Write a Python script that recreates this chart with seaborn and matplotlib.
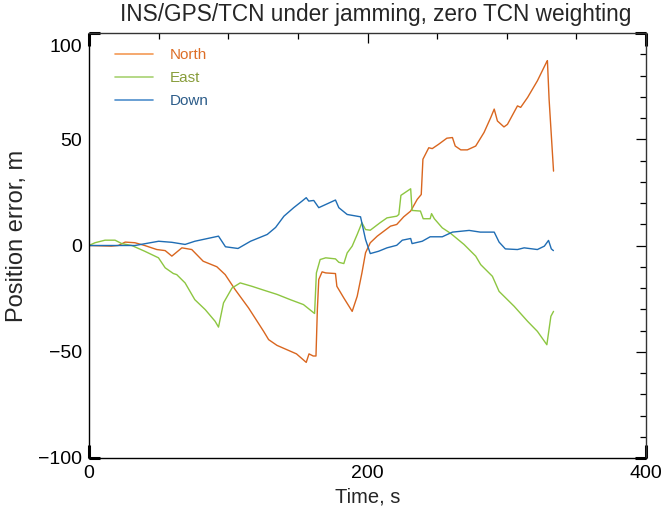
import matplotlib
matplotlib.use("Agg")
import matplotlib.pyplot as plt
from matplotlib.lines import Line2D
from matplotlib.ticker import MultipleLocator
import matplotlib.transforms as mtransforms
import numpy as np
import pandas as pd
import seaborn as sns

# Position error components (m) versus time (s)
north_t = [0, 16, 21, 26, 33, 40, 48.7, 54.7, 59.5, 66.7, 73.8, 82, 91.8, 97.8, 105,
           114.6, 125.4, 129, 135, 142, 149, 156, 158, 161, 163, 164, 165, 167.4, 170,
           177, 178, 183, 189, 192.6, 196, 198.6, 202, 207, 216.5, 221, 226, 231,
           235.7, 238.6, 239.8, 244, 246.5, 251, 257, 261, 263, 267, 271.7, 277.7,
           283.7, 288.5, 291, 293.3, 298, 300.5, 307.7, 310, 315, 322, 328.5, 329.2,
           330.4, 333.6]
north_v = [0, -0.3, 0, 1.6, 1.3, 0, -1.9, -2.4, -5, -1.1, -1.9, -7.4, -10, -13.7, -20.8,
           -29.4, -40.4, -44.3, -47, -49, -51, -55, -51, -52, -52, -30, -16, -12.4, -12.9,
           -13.2, -19.2, -24.7, -31, -23.9, -12.9, -3.4, 1.3, 4.4, 9.1, 9.9, 13.5, 16.2,
           21.7, 24, 40.6, 46, 45.6, 47.6, 50.5, 50.8, 46.8, 45, 45, 46.8,
           53.2, 60.2, 64.2, 58.6, 55.8, 57, 65.7, 65, 69.7, 77.5, 86.2, 87,
           68.9, 35]

east_t = [0, 4.3, 11.5, 18.7, 23.5, 30.7, 40, 49.9, 54.7, 60.6, 63, 69, 76, 83.5, 90.6,
          93, 96.6, 102.7, 108.6, 117, 125.4, 135, 144.6, 154, 162, 163.3, 166, 170,
          177, 179.4, 183, 185.4, 189, 192.6, 196, 198.6, 202, 209, 214, 221, 222.5,
          224, 231, 232, 238, 240, 245, 246, 248, 253.7, 259.7, 269.3, 277.7, 281.3,
          289.7, 294.5, 305.3, 315, 322, 328.8, 331.7, 333.6]
east_v = [0, 1.3, 2.5, 2.5, 0.9, 0, -2.7, -5.8, -10.5, -13.2, -13.7, -17.6, -25.5, -30.2,
          -35.7, -38.4, -27, -20, -17.6, -19.2, -21, -23, -25.5, -27.8, -32, -12.9, -6.6,
          -5.8, -6.3, -7.9, -8.5, -3.5, -0.3, 5.2, 10.7, 7.5, 7.2, 10.7, 13, 13.8, 14.6,
          23.6, 26.7, 16.5, 16.2, 12.6, 12.6, 15, 12.6, 8.3, 5.7, 0.5, -5, -9,
          -14.5, -21.6, -28.6, -35.7, -40.4, -46.7, -33.3, -31]

down_t = [0, 33, 50, 59.5, 69, 76, 93, 98, 107, 116, 128, 134, 140, 147, 153, 156,
          157.8, 161.4, 165, 177, 179.4, 185.4, 195, 198.6, 202, 208, 214, 221, 225,
          231, 232, 239.3, 245, 253.7, 261, 273, 281, 291, 294.5, 299, 307.7, 312.5,
          322, 327, 330, 332, 333.5]
down_v = [0, 0, 2, 1.5, 0.5, 2, 4.4, -0.6, -1.4, 2, 5.2, 8.5, 13.8, 17.8, 20.9, 22.5,
          20.9, 21.2, 17.8, 21.4, 17.8, 14.6, 13.5, 2.8, -3.8, -2.7, -1.1, 0.1, 2.5,
          3.3, 0.9, 2, 4.1, 4.1, 6.3, 7.1, 6.3, 6.3, 1.6, -1.6, -1.9, -1.1,
          -1.9, -0.3, 2.4, -1.6, -2.4]

components = ["North", "East", "Down"]
line_colors = {"North": "#D9661F", "East": "#8DC641", "Down": "#1F6DB4"}
legend_line_colors = {"North": "#F49A55", "East": "#A8D272", "Down": "#4F8FCC"}
legend_text_colors = {"North": "#DD6E27", "East": "#889D3B", "Down": "#2C5C89"}

frames = []
for name, t, v in [("North", north_t, north_v), ("East", east_t, east_v),
                   ("Down", down_t, down_v)]:
    frames.append(pd.DataFrame({"Time": t, "Error": v, "Component": name}))
df = pd.concat(frames, ignore_index=True)

sns.set_theme(style="white")
plt.rcParams["font.family"] = ["Liberation Sans", "DejaVu Sans"]

fig = plt.figure(figsize=(6.65, 5.21), dpi=100)
ax = fig.add_axes([89 / 665, 1 - 458 / 521, 557 / 665, 425 / 521])

sns.lineplot(data=df, x="Time", y="Error", hue="Component", hue_order=components,
             palette=line_colors, estimator=None, sort=False, linewidth=1.0,
             legend=False, ax=ax)

ax.set_xlim(0, 400)
ax.set_ylim(-100, 100)
ax.set_xticks([0, 200, 400])
ax.set_yticks([-100, -50, 0, 50, 100])
ax.xaxis.set_minor_locator(MultipleLocator(50))
ax.yaxis.set_minor_locator(MultipleLocator(10))
ax.tick_params(which="both", direction="in", top=True, right=True, colors="black",
               labelsize=14, width=0.9)
ax.tick_params(which="major", length=7, pad=5)
ax.tick_params(which="minor", length=4)
ax.set_xlabel("Time, s", fontsize=14.5, labelpad=4)
ax.set_ylabel("Position error, m", fontsize=17)
ax.yaxis.set_label_coords(-0.109, 0.522)
ax.set_title("INS/GPS/TCN under jamming, zero TCN weighting", fontsize=16.3, pad=9,
             x=0.515)

for side in ["left", "bottom"]:
    ax.spines[side].set_color("black")
    ax.spines[side].set_linewidth(1.0)
for side in ["top", "right"]:
    ax.spines[side].set_color("#333333")
    ax.spines[side].set_linewidth(1.0)

# thicker corner marks on the frame
corner = dict(color="black", lw=2.2, transform=ax.transAxes, clip_on=False,
              solid_capstyle="butt")
for (x0, x1, y0, y1) in [(0, 0.02, 1, 1), (0.98, 1, 1, 1), (1, 1, 0.97, 1),
                         (1, 1, 0, 0.03), (0.98, 1, 0, 0), (0, 0.02, 0, 0),
                         (0, 0, 0, 0.03), (0, 0, 0.97, 1)]:
    ax.add_line(Line2D([x0, x1], [y0, y1], **corner))

# shift the top y label down inside the frame
fig.canvas.draw()
for lab in ax.get_yticklabels():
    if lab.get_text() in ("100",):
        lab.set_transform(lab.get_transform() +
                          mtransforms.ScaledTranslation(0, -12 / 100, fig.dpi_scale_trans))

handles = [Line2D([], [], color=legend_line_colors[c], lw=1.2) for c in components]
leg = ax.legend(handles, components, loc="upper left", bbox_to_anchor=(0.047, 0.965),
                frameon=False, fontsize=11, handlelength=2.5, handletextpad=1.1,
                labelspacing=0.6, borderpad=0, borderaxespad=0)
for txt, c in zip(leg.get_texts(), components):
    txt.set_color(legend_text_colors[c])

fig.savefig("out.png", dpi=100)
